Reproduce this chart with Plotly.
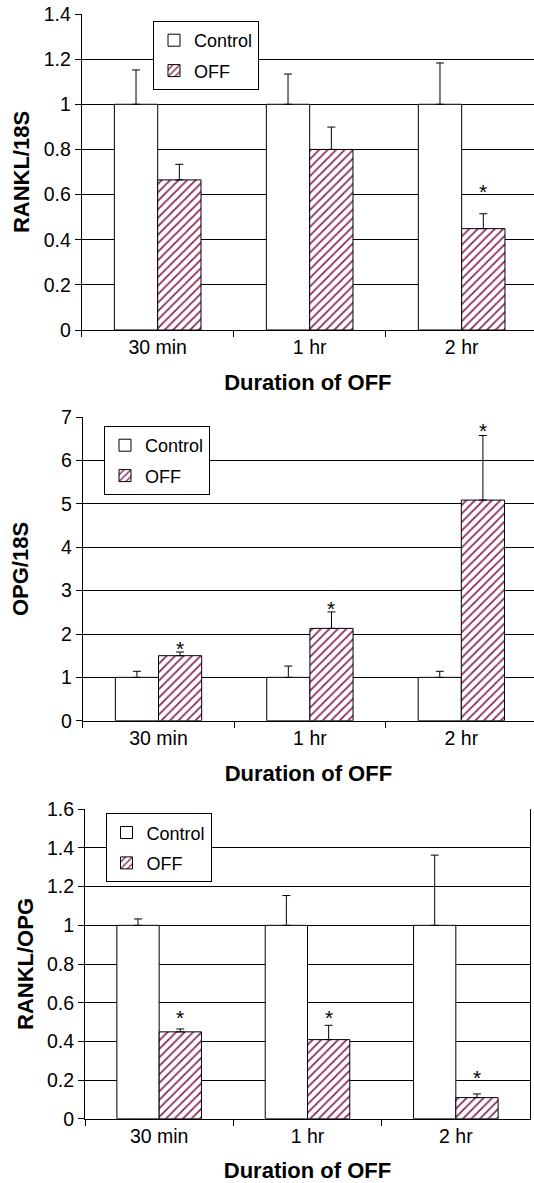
import plotly.graph_objects as go

# ---------------- data ----------------
categories = ["30 min", "1 hr", "2 hr"]
series_names = ["Control", "OFF"]

rankl_control = [1.0, 1.0, 1.0]
rankl_control_se = [0.152, 0.134, 0.183]
rankl_off = [0.665, 0.80, 0.449]
rankl_off_se = [0.069, 0.099, 0.066]
rankl_star = [None, None, 0.634]

opg_control = [1.0, 1.0, 1.0]
opg_control_se = [0.14, 0.26, 0.14]
opg_off = [1.50, 2.13, 5.09]
opg_off_se = [0.085, 0.38, 1.49]
opg_star = [1.79, 2.71, 6.81]

ratio_control = [1.0, 1.0, 1.0]
ratio_control_se = [0.033, 0.154, 0.363]
ratio_off = [0.449, 0.409, 0.109]
ratio_off_se = [0.015, 0.074, 0.019]
ratio_star = [0.55, 0.55, 0.24]

y_titles = ["RANKL/18S", "OPG/18S", "RANKL/OPG"]
y_ranges = [[0, 1.4], [0, 7], [0, 1.6]]
y_dticks = [0.2, 1, 0.2]
x_title = "Duration of OFF"

# ---------------- style / layout ----------------
W, H = 534, 1183
FONT = "Liberation Sans, Arial, Helvetica, sans-serif"
HATCH = "#8A2A5E"
BARGAP = 0.43
TICK_SIZE = 19.5
TITLE_SIZE = 22
LEG_SIZE = 18

# positions in page pixels
panel_px = [
    dict(x0=81.7, x1=534, xmax=2.476, top=14, bottom=330, leg=(153, 21), ystand=7, mirror=False),
    dict(x0=82.8, x1=534, xmax=2.48, top=417.3, bottom=720.7, leg=(104, 426), ystand=26, mirror=False),
    dict(x0=85, x1=530, xmax=2.5, top=809.3, bottom=1118.7, leg=(105.5, 813.3), ystand=7, mirror=True),
]


def px_x(v):
    return v / W


def px_y(v):
    return 1 - v / H


datasets = [
    (rankl_control, rankl_control_se, rankl_off, rankl_off_se, rankl_star),
    (opg_control, opg_control_se, opg_off, opg_off_se, opg_star),
    (ratio_control, ratio_control_se, ratio_off, ratio_off_se, ratio_star),
]

fig = go.Figure()
layout = dict(
    template="none",
    width=W, height=H,
    margin=dict(l=0, r=0, t=0, b=0, autoexpand=False),
    paper_bgcolor="white", plot_bgcolor="white",
    barmode="group", bargap=BARGAP, bargroupgap=0,
    font=dict(family=FONT, color="black", size=TICK_SIZE),
    showlegend=True,
)
annotations = []

for i, (ctrl, ctrl_se, off, off_se, star) in enumerate(datasets):
    n = i + 1
    xa = "x" if n == 1 else f"x{n}"
    ya = "y" if n == 1 else f"y{n}"
    leg = "legend" if n == 1 else f"legend{n}"
    p = panel_px[i]

    fig.add_trace(go.Bar(
        x=categories, y=ctrl, name=series_names[0], xaxis=xa, yaxis=ya,
        legend=leg, legendgroup=f"c{n}",
        marker=dict(color="white", line=dict(color="black", width=1)),
        error_y=dict(type="data", array=ctrl_se, arrayminus=[0] * len(ctrl),
                     symmetric=False, color="black", thickness=1, width=4),
    ))
    fig.add_trace(go.Bar(
        x=categories, y=off, name=series_names[1], xaxis=xa, yaxis=ya,
        legend=leg, legendgroup=f"o{n}",
        marker=dict(color="white", line=dict(color="black", width=1),
                    pattern=dict(shape="/", fgcolor=HATCH, bgcolor="white",
                                 size=6, solidity=0.3)),
        error_y=dict(type="data", array=off_se, arrayminus=[0] * len(off),
                     symmetric=False, color="black", thickness=1, width=4),
    ))

    off_offset = (1 - BARGAP) / 4
    for k, s in enumerate(star):
        if s is None:
            continue
        annotations.append(dict(
            x=k + off_offset, y=s, xref=xa, yref=ya, text="*", showarrow=False,
            xanchor="center", yanchor="middle", yshift=-5,
            font=dict(size=21, family=FONT, color="black"),
        ))

    lo, hi = y_ranges[i]
    nt = int(round((hi - lo) / y_dticks[i]))
    tickvals = [round(lo + k * y_dticks[i], 6) for k in range(nt + 1)]

    xkey = "xaxis" if n == 1 else f"xaxis{n}"
    ykey = "yaxis" if n == 1 else f"yaxis{n}"
    layout[xkey] = dict(
        domain=[px_x(p["x0"]), min(1, px_x(p["x1"]))], anchor=ya, automargin=False,
        range=[-0.5, p["xmax"]], type="category",
        showline=True, linecolor="black", linewidth=1,
        ticks="outside", tickson="boundaries", ticklen=6, tickcolor="black",
        showgrid=False, zeroline=False,
        tickfont=dict(size=TICK_SIZE, family=FONT, color="black"),
        title=dict(text=x_title, standoff=17,
                   font=dict(size=TITLE_SIZE, family=FONT, color="black", weight="bold")),
    )
    layout[ykey] = dict(
        domain=[px_y(p["bottom"]), px_y(p["top"])], anchor=xa, automargin=False,
        range=[lo, hi * (1 + 1e-6)], tickmode="array", tickvals=tickvals,
        showline=True, linecolor="black", linewidth=1, mirror=p["mirror"],
        ticks="outside", ticklen=6, tickcolor="black",
        showgrid=True, gridcolor="black", gridwidth=1, zeroline=False,
        tickfont=dict(size=TICK_SIZE, family=FONT, color="black"),
        title=dict(text=y_titles[i], standoff=p["ystand"],
                   font=dict(size=TITLE_SIZE, family=FONT, color="black", weight="bold")),
    )
    layout[leg] = dict(
        x=px_x(p["leg"][0]), y=px_y(p["leg"][1]), xanchor="left", yanchor="top",
        bordercolor="black", borderwidth=1, bgcolor="white",
        font=dict(size=LEG_SIZE, family=FONT, color="black"),
        tracegroupgap=4, itemwidth=30,
    )

layout["annotations"] = annotations
fig.update_layout(**layout)
fig.write_html(
    "out.html",
    config={"displayModeBar": False},
    post_script="document.body.style.margin='0';document.body.style.overflow='hidden';",
)
